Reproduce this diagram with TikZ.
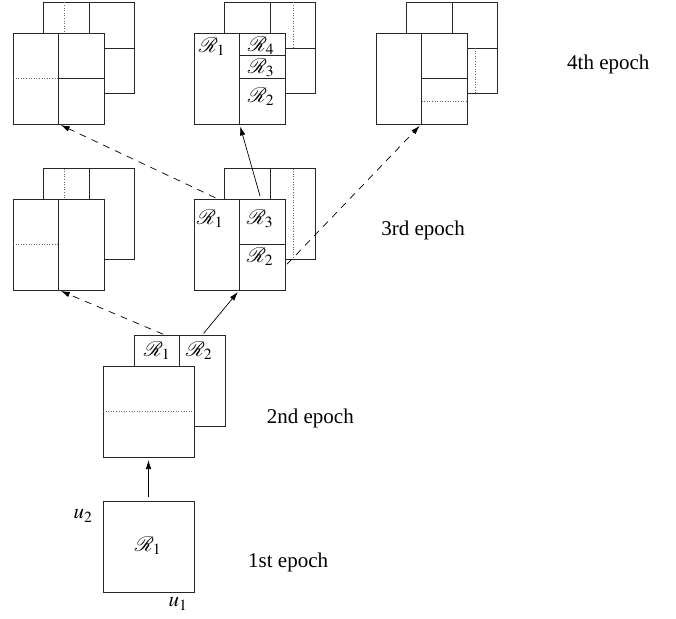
\documentclass[tikz,border=0pt]{standalone}
\usepackage{mathptmx}
\usepackage{fontspec}
\setmainfont{Liberation Serif}
\usetikzlibrary{calc,arrows.meta}
\tikzset{
  box/.style={draw=black!85, fill=white, minimum size=91pt, inner sep=0pt, outer sep=0pt, line width=0.8pt},
  inl/.style={draw=black!85, line width=0.8pt},
  dotl/.style={draw=black!60, line width=0.8pt, dash pattern=on 0.8pt off 1.8pt},
  lbl/.style={font=\fontsize{21}{24}\selectfont, inner sep=0pt},
  txt/.style={font=\fontsize{21}{24}\selectfont, inner sep=0pt},
  arr/.style={-{Latex[length=9pt,width=5.5pt]}, line width=0.7pt},
  darr/.style={arr, dash pattern=on 7pt off 6pt},
}
\begin{document}
\begin{tikzpicture}[x=1pt,y=-1pt]
\useasboundingbox (0,0) rectangle (676,618);

% ---------- 1st epoch
\node[box] (e1) at (148.5,546.5) {};
\node[lbl] (e1r1) at (148,546) {$\mathcal{R}_1$};
\node[lbl] (u2) at (83,516) {$u_2$};
\node[lbl] (u1) at (178,604) {$u_1$};
\node[txt, anchor=base west] (t1) at (248,567) {1st epoch};

% ---------- 2nd epoch
\node[box] (e2b) at (179.5,380.5) {};
\node[box] (e2f) at (148.5,411.5) {};
\draw[inl] (e2b.north) -- (e2b.north |- e2f.north);
\draw[dotl] (e2f.west) -- (e2f.east);
\node[lbl] (e2r1) at (157,351) {$\mathcal{R}_1$};
\node[lbl] (e2r2) at (199,351) {$\mathcal{R}_2$};
\node[txt, anchor=base east] (t2) at (354,423) {2nd epoch};

% ---------- 3rd epoch, left
\node[box] (e3lb) at (89,214) {};
\node[box] (e3lf) at (58.5,244.5) {};
\draw[inl] (e3lf.north) -- (e3lf.south);
\draw[dotl] (e3lf.west) -- (e3lf.center);
\draw[inl] (e3lb.north) -- (e3lb.north |- e3lf.north);
\coordinate (e3lq) at ($(e3lb.north west)!.23!(e3lb.north east)$);
\draw[dotl] (e3lq) -- (e3lq |- e3lf.north);

% ---------- 3rd epoch, middle
\node[box] (e3mb) at (270,214) {};
\node[box] (e3mf) at (239.5,244.5) {};
\draw[inl] (e3mf.north) -- (e3mf.south);
\draw[inl] (e3mf.center) -- (e3mf.east);
\draw[inl] (e3mb.north) -- (e3mb.north |- e3mf.north);
\draw[dotl] ($(e3mb.north west)!.76!(e3mb.north east)$) -- ($(e3mb.south west)!.76!(e3mb.south east)$);
\node[lbl] (e3r1) at (210,219) {$\mathcal{R}_1$};
\node[lbl] (e3r3) at (260,219) {$\mathcal{R}_3$};
\node[lbl] (e3r2) at (260,257) {$\mathcal{R}_2$};
\node[txt, anchor=base east] (t3) at (465,235) {3rd epoch};

% ---------- 4th epoch, left
\node[box] (e4lb) at (89,48) {};
\node[box] (e4lf) at (58.5,78.5) {};
\draw[inl] (e4lf.north) -- (e4lf.south);
\draw[inl] (e4lf.center) -- (e4lf.east);
\draw[dotl] (e4lf.west) -- (e4lf.center);
\draw[inl] (e4lb.north) -- (e4lb.north |- e4lf.north);
\coordinate (e4lq) at ($(e4lb.north west)!.23!(e4lb.north east)$);
\draw[dotl] (e4lq) -- (e4lq |- e4lf.north);
\draw[inl] (e4lb.east -| e4lf.east) -- (e4lb.east);

% ---------- 4th epoch, middle
\node[box] (e4mb) at (270,48) {};
\node[box] (e4mf) at (239.5,78.5) {};
\draw[inl] (e4mf.north) -- (e4mf.south);
\draw[inl] (e4mf.center) -- (e4mf.east);
\draw[inl] ($(e4mf.north)!.25!(e4mf.south)$) -- ($(e4mf.north east)!.25!(e4mf.south east)$);
\draw[inl] (e4mb.north) -- (e4mb.north |- e4mf.north);
\draw[inl] (e4mb.east -| e4mf.east) -- (e4mb.east);
\coordinate (e4mq) at ($(e4mb.north west)!.76!(e4mb.north east)$);
\draw[dotl] (e4mq) -- (e4mq |- e4mb.east);
\node[lbl] (e4r1) at (212,47) {$\mathcal{R}_1$};
\node[lbl] (e4r4) at (261,46) {$\mathcal{R}_4$};
\node[lbl] (e4r3) at (261,68) {$\mathcal{R}_3$};
\node[lbl] (e4r2) at (261,97) {$\mathcal{R}_2$};

% ---------- 4th epoch, right
\node[box] (e4rb) at (452,48) {};
\node[box] (e4rf) at (421.5,78.5) {};
\draw[inl] (e4rf.north) -- (e4rf.south);
\draw[inl] (e4rf.center) -- (e4rf.east);
\draw[dotl] ($(e4rf.north)!.75!(e4rf.south)$) -- ($(e4rf.north east)!.75!(e4rf.south east)$);
\draw[inl] (e4rb.north) -- (e4rb.north |- e4rf.north);
\draw[inl] (e4rb.east -| e4rf.east) -- (e4rb.east);
\coordinate (e4rq) at ($(e4rb.north west)!.76!(e4rb.north east)$);
\draw[dotl] (e4rq |- e4rb.east) -- (e4rq |- e4rb.south);
\node[txt, anchor=base west] (t4) at (567,69) {4th epoch};

% ---------- connectors
\coordinate (s2m) at ($(e2b.north)!.5!(e2b.north east)$);
\coordinate (s2l) at ($(e2b.north west)!.68!(e2b.north)$);
\coordinate (s3l) at ($(e3mf.north west)!.53!(e3mf.north)$);
\coordinate (s3m) at ($(e3mf.north)!.47!(e3mf.north east)$);
\coordinate (s3r) at ($(e3mf.north east)!.74!(e3mf.south east)$);

\draw[arr, shorten <=4pt, shorten >=3pt] (e1.north) -- (e2f.south);
\draw[arr, shorten <=2pt, shorten >=2.5pt] (s2m) -- (e3mf.south);
\draw[darr, shorten <=2pt, shorten >=2.5pt] (s2l) -- (e3lf.south);
\draw[darr, shorten <=3pt, shorten >=2.5pt] (s3l) -- (e4lf.south);
\draw[arr, shorten <=3pt, shorten >=2.5pt] (s3m) -- (e4mf.south);
\draw[darr, shorten <=3pt, shorten >=2.5pt] (s3r) -- (e4rf.south);
\end{tikzpicture}
\end{document}
